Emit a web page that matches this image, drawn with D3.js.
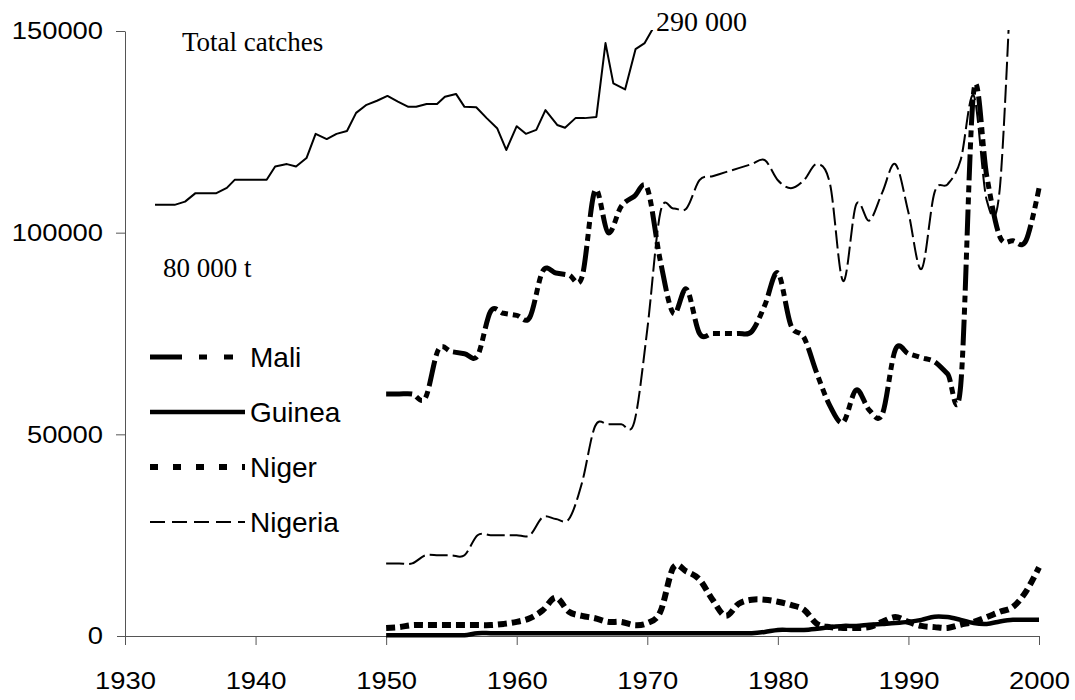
<!DOCTYPE html>
<html>
<head>
<meta charset="utf-8">
<script src="https://cdn.jsdelivr.net/npm/d3@7"></script>
<style>
  html, body { margin: 0; padding: 0; background: #fff; }
  svg { display: block; }
</style>
</head>
<body>
<svg id="chart" width="1075" height="700"></svg>
<script>
// ---------- DATA ----------
const years = d3.range(1950, 2001);

const mali = [60000, 60000, 60000, 59000, 71000, 70500, 70000, 69500, 80500, 80000,
              79500, 79000, 90500, 90000, 89500, 89000, 110500, 100000, 106500, 109000,
              111000, 93000, 80000, 86000, 75000, 75000, 75000, 75000, 75500, 82000,
              90000, 77000, 74000, 65000, 57000, 53000, 61000, 56000, 55000, 71000,
              70000, 69000, 68000, 65000, 62000, 135000, 114000, 99000, 98000, 98000,
              111000];

const guinea = [200, 200, 200, 200, 200, 200, 200, 700, 700, 700,
                700, 700, 700, 700, 700, 700, 700, 700, 700, 700,
                700, 700, 700, 700, 700, 700, 700, 700, 700, 1000,
                1500, 1500, 1500, 1800, 2200, 2500, 2500, 2800, 3000, 3200,
                3500, 4000, 4800, 4700, 4000, 3200, 3000, 3600, 4000, 4000,
                4000];

const niger = [2000, 2200, 2700, 2700, 2700, 2700, 2700, 2700, 2700, 3000,
               3500, 4400, 6400, 9500, 6000, 5000, 4400, 3500, 3500, 2700,
               3200, 6000, 17000, 16000, 14000, 9000, 5000, 8000, 9000, 9000,
               8500, 7700, 6500, 3000, 2200, 2000, 2000, 2200, 3500, 4700,
               3500, 2500, 2200, 2000, 2800, 3500, 4700, 6000, 7200, 11000,
               17000];

// Nigeria: 1950-1998 (1998 goes off the top of the chart)
const nigeria = [18000, 18000, 18000, 20000, 20000, 20000, 20000, 25000, 25000, 25000,
                 25000, 25000, 29500, 29000, 29000, 38000, 52000, 52500, 52500, 53000,
                 76000, 105000, 106000, 106000, 113000, 114000, 115000, 116000, 117000, 118000,
                 113000, 111000, 113000, 117000, 112000, 88000, 107000, 103000, 110000, 117000,
                 105000, 91000, 110000, 112000, 118000, 134000, 108000, 111000, 175000];

// Total catches (drawn on its own implied scale, 80 000 t ... 290 000 t): positions as plotted
const totalYears = [1932.3, 1933.8, 1934.6, 1935.4, 1937.0, 1937.8, 1938.4, 1940.85, 1941.5, 1942.4,
                    1943.1, 1943.9, 1944.6, 1945.45, 1946.2, 1947.0, 1947.7, 1948.5, 1949.3, 1950.1,
                    1950.9, 1951.7, 1952.3, 1953.1, 1953.9, 1954.5, 1955.35, 1956.0, 1956.9, 1957.7,
                    1958.5, 1959.2, 1960.0, 1960.7, 1961.5, 1962.2, 1963.1, 1963.7, 1964.5, 1965.2,
                    1966.1, 1966.8, 1967.4, 1968.3, 1969.1, 1969.8, 1970.5];
const totalValues = [106900, 106900, 107700, 109800, 109800, 111100, 113100, 113100, 116400, 117000,
                     116400, 118500, 124500, 123200, 124500, 125200, 129700, 131700, 132700, 133900,
                     132500, 131200, 131200, 131900, 131900, 133700, 134400, 131200, 131100, 128400,
                     125900, 120500, 126400, 124500, 125500, 130400, 126700, 126000, 128400, 128400,
                     128700, 147000, 137000, 135500, 145500, 147000, 151000];

const xTicks = [1930, 1940, 1950, 1960, 1970, 1980, 1990, 2000];
const yTicks = [0, 50000, 100000, 150000];

const legendItems = ["Mali", "Guinea", "Niger", "Nigeria"];
const annotations = ["Total catches", "80 000 t", "290 000"];

// ---------- LAYOUT ----------
const svg = d3.select("#chart");
const x = d3.scaleLinear().domain([1930, 2000]).range([125, 1039]);
const y = d3.scaleLinear().domain([0, 150000]).range([636, 31]);

svg.append("defs").append("clipPath").attr("id", "plotclip")
  .append("rect").attr("x", 125).attr("y", 30).attr("width", 950).attr("height", 670);

// axes
const axisColor = "#555";
const tickFont = "'Liberation Sans', Arial, sans-serif";
const sx = 1.14;

const gx = svg.append("g").attr("transform", `translate(0,${y(0)})`)
  .call(d3.axisBottom(x).tickValues(xTicks).tickFormat(d3.format("d")).tickSize(9).tickSizeOuter(0));
gx.select(".domain").attr("stroke", axisColor).attr("d", `M117,0.5H${x(2000)}`);
gx.selectAll(".tick line").attr("stroke", axisColor);
gx.selectAll(".tick text")
  .attr("fill", "#000").attr("font-family", tickFont).attr("font-size", 24)
  .attr("dy", null).attr("y", 53).attr("transform", `scale(${sx},1)`);

const gy = svg.append("g").attr("transform", `translate(${x(1930)},0)`)
  .call(d3.axisLeft(y).tickValues(yTicks).tickFormat(d3.format("d")).tickSize(9).tickSizeOuter(0));
gy.select(".domain").attr("stroke", axisColor);
gy.selectAll(".tick line").attr("stroke", axisColor);
gy.selectAll(".tick text")
  .attr("fill", "#000").attr("font-family", tickFont).attr("font-size", 24)
  .attr("x", -22 / sx).attr("dy", "0.32em").attr("transform", `scale(${sx},1)`);
gy.selectAll(".tick").filter(d => d === 0).select("line").remove();

// lines
const plot = svg.append("g").attr("clip-path", "url(#plotclip)");
const smooth = d3.curveCardinal.tension(0);

function drawSeries(data, style, yrs) {
  const pts = data.map((v, i) => [yrs ? yrs[i] : years[i], v]);
  plot.append("path")
    .datum(pts)
    .attr("fill", "none")
    .attr("stroke", "#000")
    .attr("stroke-width", style.w)
    .attr("stroke-dasharray", style.dash || null)
    .attr("stroke-linejoin", "round")
    .attr("d", d3.line().x(d => x(d[0])).y(d => y(d[1])).curve(style.curve || smooth));
}

const styles = {
  Mali:    { w: 5,   dash: "26,5,7,5,7,5", legendDash: "32,17,8,17,9,30" },
  Guinea:  { w: 4.5, dash: null,           legendDash: null },
  Niger:   { w: 6,   dash: "9,5",          legendDash: "8,15" },
  Nigeria: { w: 2,   dash: "18,5",         legendDash: "15,7" }
};

drawSeries(totalValues, { w: 2, curve: d3.curveLinear }, totalYears);
drawSeries(guinea, styles.Guinea);
drawSeries(niger, styles.Niger);
drawSeries(nigeria, styles.Nigeria);
drawSeries(mali, styles.Mali);

// legend
const lg = svg.append("g");
const legendY = [357, 412, 467, 522];
legendItems.forEach((name, i) => {
  const st = styles[name];
  lg.append("line")
    .attr("x1", 150).attr("x2", 245).attr("y1", legendY[i]).attr("y2", legendY[i])
    .attr("stroke", "#000").attr("stroke-width", st.w)
    .attr("stroke-dasharray", st.legendDash);
  lg.append("text")
    .attr("x", 250).attr("y", legendY[i] + 10)
    .attr("font-family", tickFont).attr("font-size", 28)
    .text(name);
});

// annotations (serif)
const serif = "'Liberation Serif', 'Times New Roman', serif";
svg.append("text").attr("x", 182).attr("y", 51).attr("font-family", serif).attr("font-size", 27).text(annotations[0]);
svg.append("text").attr("x", 163).attr("y", 277).attr("font-family", serif).attr("font-size", 27).text(annotations[1]);
svg.append("text").attr("x", 656).attr("y", 31).attr("font-family", serif).attr("font-size", 28).text(annotations[2]);
</script>
</body>
</html>
